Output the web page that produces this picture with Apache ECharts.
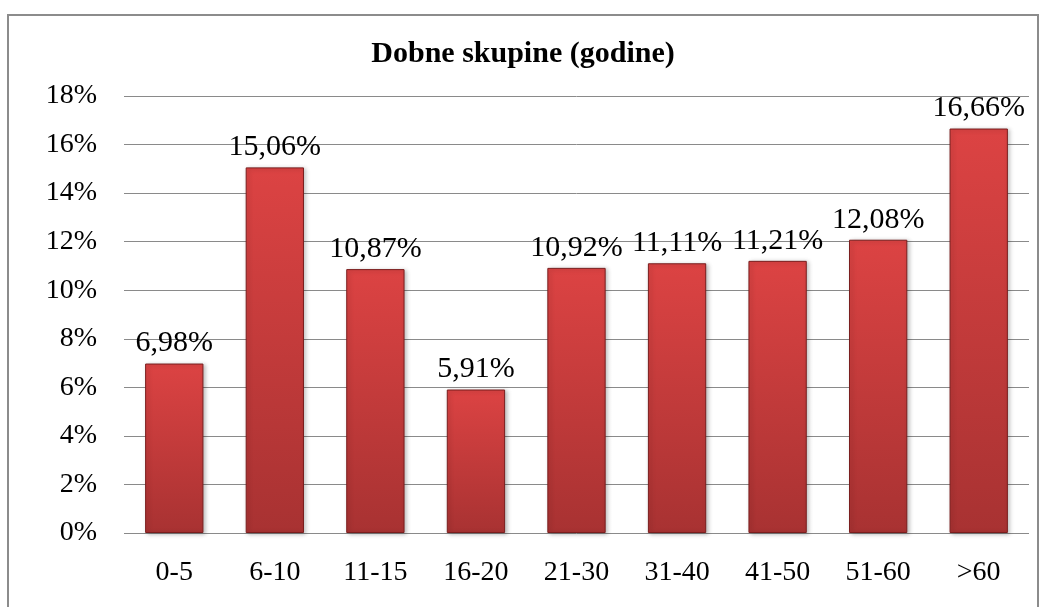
<!DOCTYPE html>
<html><head><meta charset="utf-8">
<script src="https://cdn.jsdelivr.net/npm/echarts@6/dist/echarts.min.js"></script>
<style>html,body{margin:0;padding:0;background:#fff}#c{width:1046px;height:607px}</style>
</head><body><div id="c"></div>
<script>
const categories = ['0-5','6-10','11-15','16-20','21-30','31-40','41-50','51-60','>60'];
const values = [6.98, 15.06, 10.87, 5.91, 10.92, 11.11, 11.21, 12.08, 16.66];
const yTicks = [0, 2, 4, 6, 8, 10, 12, 14, 16, 18];
const titleText = 'Dobne skupine (godine)';

const chart = echarts.init(document.getElementById('c'));
const font = '"Liberation Serif","Times New Roman",serif';
chart.setOption({
  animation: false,
  backgroundColor: '#fff',
  graphic: [{
    type: 'rect', shape: {x: 8, y: 15, width: 1030, height: 620},
    style: {fill: 'none', stroke: '#8c8c8c', lineWidth: 2}, z: -1
  }],
  title: {
    text: titleText, left: 'center', top: 34,
    textStyle: {fontFamily: font, fontWeight: 'bold', fontSize: 30, color: '#000'}
  },
  grid: {left: 124, right: 17, top: 96, bottom: 74, containLabel: false},
  xAxis: {
    type: 'category', data: categories,
    axisLine: {show: false}, axisTick: {show: false},
    axisLabel: {fontFamily: font, fontSize: 28, color: '#000', margin: 26}
  },
  yAxis: {
    type: 'value', min: yTicks[0], max: yTicks[yTicks.length - 1], interval: 2,
    axisLine: {show: false}, axisTick: {show: false},
    axisLabel: {fontFamily: font, fontSize: 28, color: '#000', margin: 27, formatter: v => v + '%'},
    splitLine: {lineStyle: {color: '#8a8a8a', width: 1}}
  },
  series: [{
    type: 'bar', data: values, barWidth: '58%',
    itemStyle: {
      color: new echarts.graphic.LinearGradient(0, 0, 0, 1, [
        {offset: 0, color: '#dc4343'},
        {offset: 1, color: '#a83232'}
      ]),
      borderColor: '#7a1e1e', borderWidth: 1,
      shadowColor: 'rgba(0,0,0,0.25)', shadowBlur: 4, shadowOffsetX: 2, shadowOffsetY: 1
    },
    label: {
      show: true, position: 'top', distance: 5,
      fontFamily: font, fontSize: 30, color: '#000',
      formatter: p => p.value.toFixed(2).replace('.', ',') + '%'
    }
  }]
});
</script></body></html>
